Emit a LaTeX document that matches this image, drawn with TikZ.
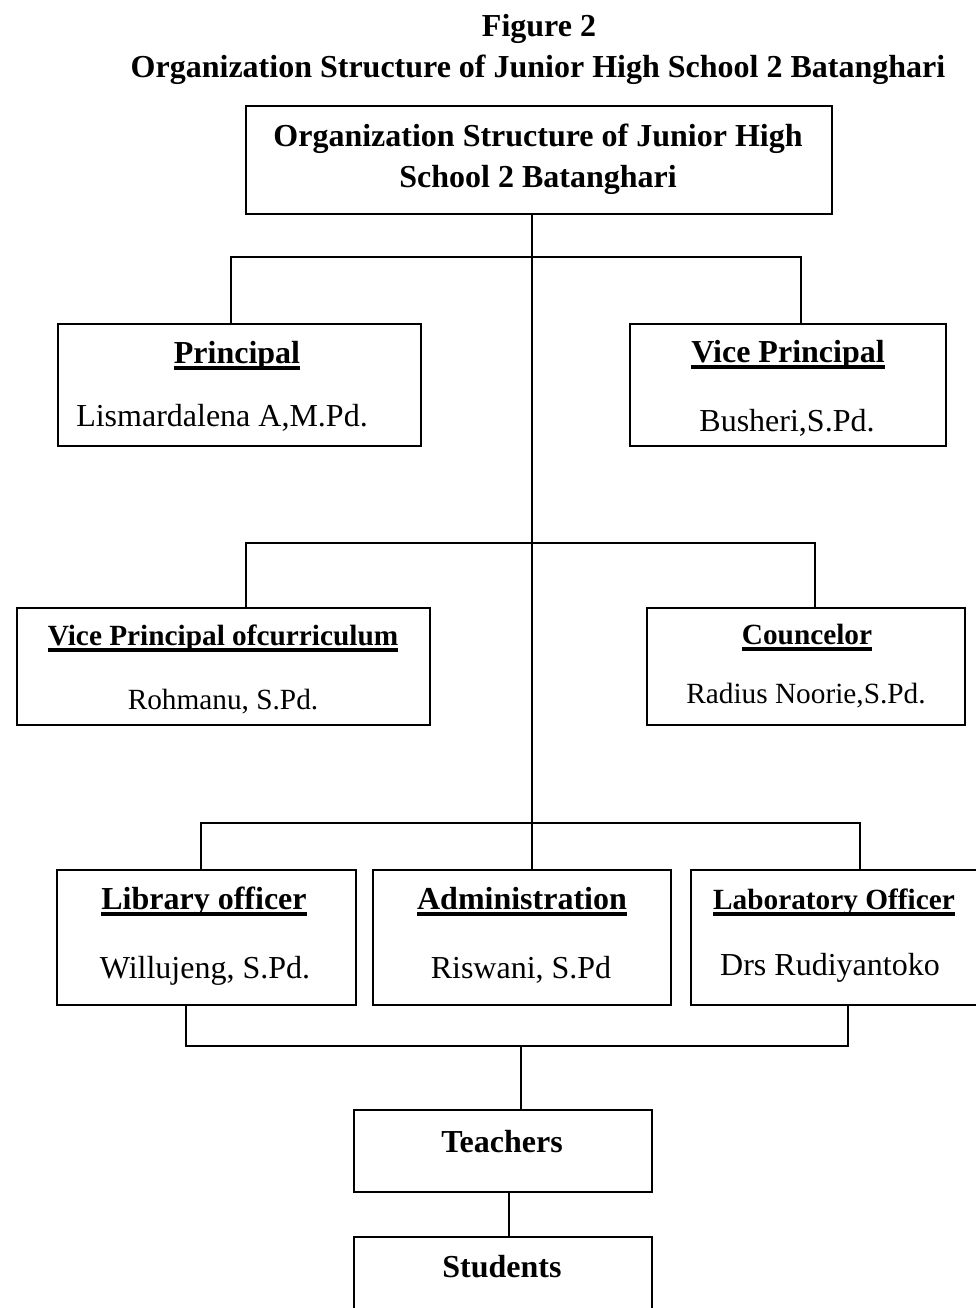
\documentclass[tikz,border=0pt]{standalone}
\usepackage{fontspec}
\setmainfont{Liberation Serif}
\newcommand{\myul}[1]{\setbox0=\hbox{#1}\rlap{\vrule height -2.5pt depth 6.5pt width \wd0}\box0}
\tikzset{
  orgbox/.style={draw=black, line width=2pt, rectangle, inner sep=0pt, anchor=north west},
  conn/.style={draw=black, line width=2pt},
  txt/.style={inner sep=0pt, anchor=base, font=\fontsize{32}{38}\selectfont},
  txtb/.style={inner sep=0pt, anchor=base, font=\fontsize{32}{38}\selectfont\bfseries},
  txts/.style={inner sep=0pt, anchor=base, font=\fontsize{29.3}{35}\selectfont},
  txtsb/.style={inner sep=0pt, anchor=base, font=\fontsize{29.3}{35}\selectfont\bfseries}
}
\begin{document}
\begin{tikzpicture}[x=1pt,y=-1pt]
\clip (0,0) rectangle (976,1308);
\fill[white] (0,0) rectangle (976,1308);
% titles
\node[txtb] (fig) at (539,37) {Figure 2};
\node[txtb] (ttl) at (538,78) {Organization Structure of Junior High School 2 Batanghari};
% boxes
\node[orgbox, minimum width=586, minimum height=108] (top) at (245,105) {};
\node[orgbox, minimum width=363, minimum height=122] (prin) at (57,323) {};
\node[orgbox, minimum width=316, minimum height=122] (vice) at (629,323) {};
\node[orgbox, minimum width=413, minimum height=117] (vpc) at (16,607) {};
\node[orgbox, minimum width=318, minimum height=117] (cou) at (646,607) {};
\node[orgbox, minimum width=299, minimum height=135] (lib) at (56,869) {};
\node[orgbox, minimum width=298, minimum height=135] (adm) at (372,869) {};
\node[orgbox, minimum width=320, minimum height=135] (lab) at (690,869) {};
\node[orgbox, minimum width=298, minimum height=82] (tea) at (353,1109) {};
\node[orgbox, minimum width=298, minimum height=100] (stu) at (353,1236) {};
% texts
\node[txtb] (top1) at (538,147) {Organization Structure of Junior High};
\node[txtb] (top2) at (538,187) {School 2 Batanghari};
\node[txtb] (prinT) at (237,363) {\myul{Principal}};
\node[txt] (prinN) at (222,426) {Lismardalena A,M.Pd.};
\node[txtb] (viceT) at (788,362) {\myul{Vice Principal}};
\node[txt] (viceN) at (787,431) {Busheri,S.Pd.};
\node[txtsb] (vpcT) at (223,645) {\myul{Vice Principal ofcurriculum}};
\node[txts] (vpcN) at (223,709) {Rohmanu, S.Pd.};
\node[txtsb] (couT) at (807,644) {\myul{Councelor}};
\node[txts] (couN) at (806,703) {Radius Noorie,S.Pd.};
\node[txtb] (libT) at (204,909) {\myul{Library officer}};
\node[txt] (libN) at (205,978) {Willujeng, S.Pd.};
\node[txtb] (admT) at (522,909) {\myul{Administration}};
\node[txt] (admN) at (521,978) {Riswani, S.Pd};
\node[txtsb] (labT) at (834,909) {\myul{Laboratory Officer}};
\node[txt] (labN) at (830,975) {Drs Rudiyantoko};
\node[txtb] (teaT) at (502,1152) {Teachers};
\node[txtb] (stuT) at (502,1277) {Students};
% junction coordinates
\coordinate (spine) at (532,0);
\coordinate (h1L) at (231,257);
\coordinate (h1R) at (801,257);
\coordinate (h2L) at (246,543);
\coordinate (h2R) at (815,543);
\coordinate (h3L) at (201,823);
\coordinate (h3R) at (860,823);
\coordinate (h4L) at (186,1046);
\coordinate (h4R) at (848,1046);
\coordinate (h4M) at (521,1046);
\coordinate (t2s) at (509,0);
% connectors
\draw[conn] (top.south -| spine) -- (adm.north -| spine);
\draw[conn] (prin.north -| h1L) -- (h1L) -- (h1R) -- (vice.north -| h1R);
\draw[conn] (vpc.north -| h2L) -- (h2L) -- (h2R) -- (cou.north -| h2R);
\draw[conn] (lib.north -| h3L) -- (h3L) -- (h3R) -- (lab.north -| h3R);
\draw[conn] (lib.south -| h4L) -- (h4L) -- (h4R) -- (lab.south -| h4R);
\draw[conn] (h4M) -- (tea.north -| h4M);
\draw[conn] (tea.south -| t2s) -- (stu.north -| t2s);
\end{tikzpicture}
\end{document}
